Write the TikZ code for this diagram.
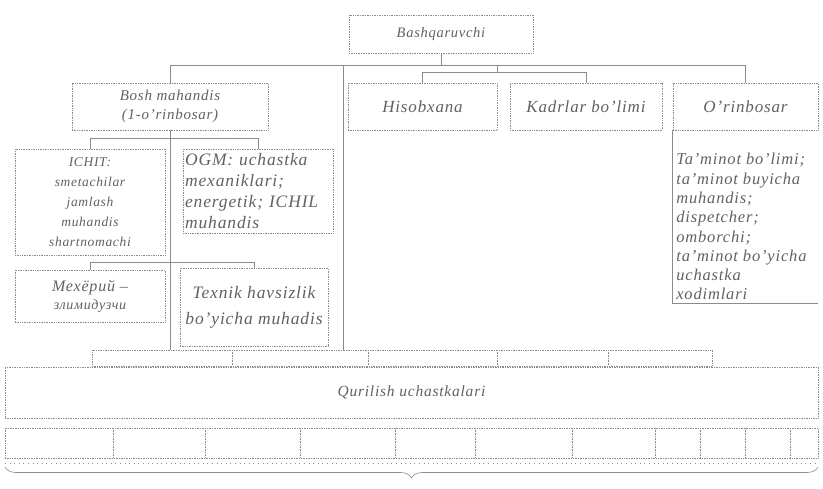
\documentclass[tikz,border=0pt]{standalone}
\usepackage{fontspec}
\setmainfont{Liberation Serif}[LetterSpace=5]
\usetikzlibrary{decorations.pathreplacing}

\begin{document}
\begin{tikzpicture}[x=1pt,y=-1pt,
    box/.style={draw=black!45, densely dotted, line width=0.7pt, inner sep=2pt,
        align=center, text=black!62, font=\fontsize{14}{19}\selectfont\itshape},
    wire/.style={draw=black!45, line width=0.6pt}]
    \useasboundingbox (0,0) rectangle (823,488);

    \node[box, minimum width=184, minimum height=38, font=\fontsize{14.5}{19}\selectfont\itshape] (boss) at (441,34) {Bashqaruvchi};
    \node[box, minimum width=196, minimum height=47, font=\fontsize{15}{19}\selectfont\itshape] (bosh) at (170,106.5) {Bosh mahandis\\(1-o'rinbosar)};
    \node[box, minimum width=149, minimum height=47, font=\fontsize{17}{22}\selectfont\itshape] (hisob) at (422.5,106.5) {Hisobxana};
    \node[box, minimum width=152, minimum height=47, font=\fontsize{17}{22}\selectfont\itshape] (kadr) at (586,106.5) {Kadrlar bo'limi};
    \node[box, minimum width=145, minimum height=47, font=\fontsize{17}{22}\selectfont\itshape] (orin) at (745.5,106.5) {O'rinbosar};
    \node[box, draw=none, anchor=north west, inner xsep=0pt, inner ysep=3pt, align=left,
        font=\fontsize{16.5}{19.3}\selectfont\itshape] (orinlist) at (676,150)
        {Ta'minot bo'limi;\\ta'minot buyicha\\muhandis;\\dispetcher;\\omborchi;\\ta'minot bo'yicha\\uchastka\\xodimlari};

    \node[box, minimum width=150, minimum height=106, font=\fontsize{13.5}{20}\selectfont\itshape] (ichit) at (90,202)
        {ICHIT:\\smetachilar\\jamlash\\muhandis\\shartnomachi};
    \node[box, minimum width=150, minimum height=84, align=left, text width=146,
        font=\fontsize{17.5}{21}\selectfont\itshape] (ogm) at (258,191)
        {OGM: uchastka\\mexaniklari;\\energetik; ICHIL\\muhandis};
    \node[box, minimum width=150, minimum height=52, font=\fontsize{16}{18}\selectfont\itshape] (meyor) at (90,296)
        {Мехёрий --\\{\fontsize{14}{16}\selectfont злимидузчи}};
    \node[box, minimum width=148, minimum height=78, font=\fontsize{17.5}{26}\selectfont\itshape] (texnik) at (254,307)
        {Texnik havsizlik\\bo'yicha muhadis};

    \node[box, minimum width=620, minimum height=16] (strip) at (402,358) {};
    \node[box, minimum width=813, minimum height=51, font=\fontsize{15.5}{19}\selectfont\itshape] (quril) at (411.5,392.5) {Qurilish uchastkalari};
    \node[box, minimum width=813, minimum height=30] (row) at (411.5,443) {};

    \coordinate (bus) at (0,65);
    \coordinate (subbus) at (497,72);
    \coordinate (spine) at (343,65);
    \coordinate (fork1) at (0,138);
    \coordinate (fork2) at (0,262);

    \draw[wire] (boss.south) -- (boss.south |- bus);
    \draw[wire] (bosh.north) -- (bosh.north |- bus) -- (orin.north |- bus) -- (orin.north);
    \draw[wire] (subbus |- bus) -- (subbus);
    \draw[wire] (hisob.north) -- (hisob.north |- subbus) -- (kadr.north |- subbus) -- (kadr.north);
    \draw[wire] (spine) -- (spine |- strip.north);
    \draw[wire] (bosh.south) -- (bosh.south |- strip.north);
    \draw[wire] (ichit.north) -- (ichit.north |- fork1) -- (ogm.north |- fork1) -- (ogm.north);
    \draw[wire] (meyor.north) -- (meyor.north |- fork2) -- (texnik.north |- fork2) -- (texnik.north);
    \draw[wire] (orin.south west) -- (orin.south west |- orinlist.south) -- (orin.south east |- orinlist.south);

    \foreach \x in {232,368,497,608}
        \draw[wire, densely dotted] (\x,350) -- (\x,366);
    \foreach \x in {113,205,300,395,475,572,655,700,745,790}
        \draw[wire, densely dotted] (\x,428) -- (\x,458);

    \draw[wire, loosely dotted] (5,463) -- (818,463);
    \draw[wire, decorate, decoration={brace, mirror, amplitude=11pt}] (5,467) -- (818,467);
\end{tikzpicture}
\end{document}
